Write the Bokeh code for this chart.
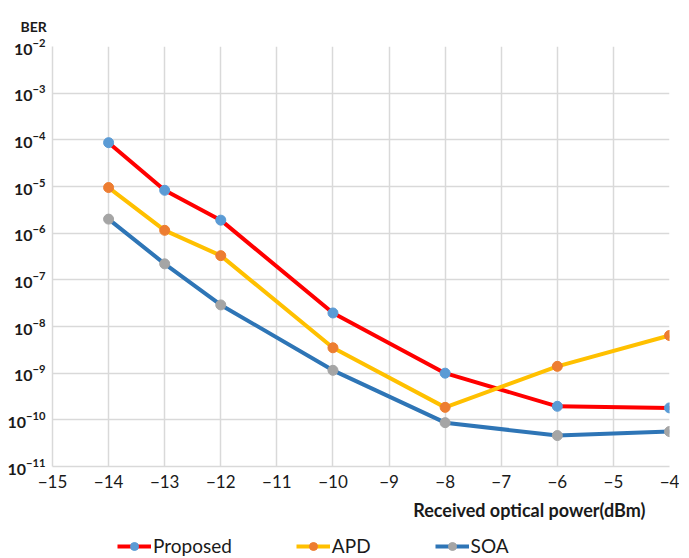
from bokeh.plotting import figure
from bokeh.layouts import column
from bokeh.models import Legend, LegendItem, Title, FixedTicker
from bokeh.embed import file_html
from bokeh.resources import INLINE

power = [-14, -13, -12, -10, -8, -6, -4]
ber_proposed = [8.7e-5, 8.3e-6, 1.9e-6, 1.95e-8, 1.0e-9, 1.95e-10, 1.8e-10]
ber_apd = [9.5e-6, 1.15e-6, 3.3e-7, 3.5e-9, 1.85e-10, 1.4e-9, 6.4e-9]
ber_soa = [2.0e-6, 2.2e-7, 2.9e-8, 1.15e-9, 8.7e-11, 4.6e-11, 5.6e-11]

series_names = ["Proposed", "APD", "SOA"]
x_ticks = [-15, -14, -13, -12, -11, -10, -9, -8, -7, -6, -5, -4]
x_tick_labels = ["\u221215", "\u221214", "\u221213", "\u221212", "\u221211", "\u221210",
                 "\u22129", "\u22128", "\u22127", "\u22126", "\u22125", "\u22124"]
y_ticks = [1e-11, 1e-10, 1e-9, 1e-8, 1e-7, 1e-6, 1e-5, 1e-4, 1e-3, 1e-2]

FONT = "Lato"

p = figure(frame_width=617, frame_height=420, y_axis_type="log",
           x_range=(-15, -4), y_range=(1e-11, 1e-2),
           output_backend="svg", toolbar_location=None,
           min_border_left=52, min_border_right=10, min_border_top=46, min_border_bottom=20)
p.outline_line_color = None

p.xaxis.ticker = FixedTicker(ticks=x_ticks)
p.xaxis.major_label_overrides = {t: l for t, l in zip(x_ticks, x_tick_labels)}
p.yaxis.ticker = FixedTicker(ticks=y_ticks)
p.xaxis.minor_tick_line_color = None
p.yaxis.minor_tick_line_color = None
for ax in (p.xaxis, p.yaxis):
    ax.axis_line_color = "#D9D9D9"
    ax.axis_line_width = 1.5
    ax.major_tick_line_color = None
    ax.major_label_text_font = FONT
    ax.major_label_text_color = "#1a1a1a"
p.xaxis.major_label_text_font_size = "17px"
p.xaxis.major_label_standoff = 2
p.yaxis.major_label_text_font_size = "16px"
p.yaxis.major_label_text_font_style = "bold"
p.yaxis.major_label_standoff = 1

p.xgrid.ticker = FixedTicker(ticks=x_ticks)
p.ygrid.ticker = FixedTicker(ticks=y_ticks)
p.xgrid.grid_line_color = "#D9D9D9"
p.ygrid.grid_line_color = "#D9D9D9"
p.xgrid.grid_line_width = 1.5
p.ygrid.grid_line_width = 1.5

all_series = [ber_proposed, ber_apd, ber_soa]
styles = [("#FF0000", "#5B9BD5"), ("#FFC000", "#ED7D31"), ("#2E75B6", "#A5A5A5")]
for ys, (lc, mc) in zip(all_series, styles):
    p.line(power, ys, line_color=lc, line_width=4)
    p.scatter(power, ys, size=10, fill_color=mc, line_color=mc)

p.add_layout(Title(text="BER", align="left", offset=-32, text_font=FONT,
                   text_font_style="bold", text_font_size="14px",
                   text_color="#1a1a1a", standoff=24), "above")
p.add_layout(Title(text="Received optical power(dBm)", align="right", offset=24,
                   text_font=FONT, text_font_style="bold", text_font_size="18px",
                   text_color="#1a1a1a", standoff=13), "below")

# legend strip below the chart (its renderers hold the series data, out of view)
lg = figure(width=679, height=34, x_range=(0, 1), y_range=(0, 1),
            output_backend="svg", toolbar_location=None,
            x_axis_location=None, y_axis_location=None,
            min_border=0, min_border_left=0, min_border_right=0,
            min_border_top=0, min_border_bottom=0)
lg.outline_line_color = None
lg.xgrid.visible = False
lg.ygrid.visible = False
items = []
for name, ys, (lc, mc) in zip(series_names, all_series, styles):
    l = lg.line(power, ys, line_color=lc, line_width=4)
    s = lg.scatter(power, ys, size=10, fill_color=mc, line_color=mc)
    items.append(LegendItem(label=name, renderers=[l, s]))
legend = Legend(items=items, orientation="horizontal", location=(65, 4),
                label_text_font=FONT, label_text_font_size="19px",
                label_text_color="#1a1a1a", glyph_width=34, glyph_height=20,
                spacing=64, border_line_color=None, background_fill_alpha=0,
                label_standoff=2, padding=0, margin=0)
lg.add_layout(legend)

open("out.html", "w").write(file_html(column(p, lg, spacing=0), INLINE))
